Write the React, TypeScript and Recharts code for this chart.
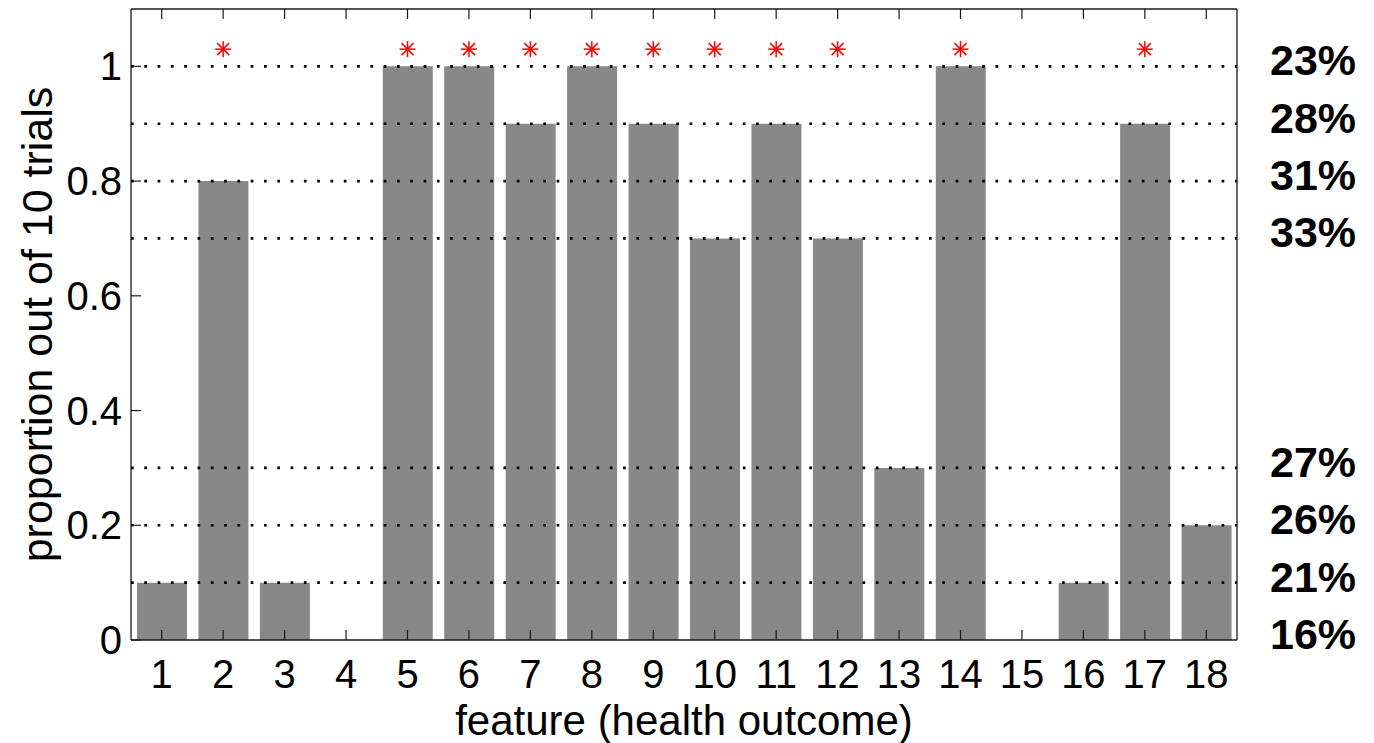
import React from 'react';
import { ComposedChart, Bar, XAxis, YAxis, ReferenceLine, ReferenceDot } from 'recharts';

const features = ['1', '2', '3', '4', '5', '6', '7', '8', '9', '10', '11', '12', '13', '14', '15', '16', '17', '18'];
const proportions = [0.1, 0.8, 0.1, 0, 1, 1, 0.9, 1, 0.9, 0.7, 0.9, 0.7, 0.3, 1, 0, 0.1, 0.9, 0.2];
const starred = ['2', '5', '6', '7', '8', '9', '10', '11', '12', '14', '17'];
const starLevel = 1.03;
const yTicks = [0, 0.2, 0.4, 0.6, 0.8, 1];
const levels = [1, 0.9, 0.8, 0.7, 0.3, 0.2, 0.1, 0];
const levelLabels = ['23%', '28%', '31%', '33%', '27%', '26%', '21%', '16%'];

const data = features.map((f, i) => ({ feature: f, value: proportions[i] }));

const FONT = '"Liberation Sans", Arial, Helvetica, sans-serif';
const FRAME = '#1a1a1a';
const TICK_LEN = 10;

const BottomTick = (props: any) => {
  const { x, y, payload } = props;
  return (
    <g>
      <line x1={x} y1={y} x2={x} y2={y - TICK_LEN} stroke={FRAME} strokeWidth={1.2} />
      <text x={x} y={y + 48} textAnchor="middle" fontSize={40} fontFamily={FONT} fill="#000">
        {payload.value}
      </text>
    </g>
  );
};

const TopTick = (props: any) => {
  const { x, y } = props;
  return <line x1={x} y1={y} x2={x} y2={y + TICK_LEN} stroke={FRAME} strokeWidth={1.2} />;
};

const LeftTick = (props: any) => {
  const { x, y, payload } = props;
  return (
    <g>
      <line x1={x} y1={y} x2={x + TICK_LEN} y2={y} stroke={FRAME} strokeWidth={1.2} />
      <text x={x - 9} y={y + 14} textAnchor="end" fontSize={40} fontFamily={FONT} fill="#000">
        {payload.value}
      </text>
    </g>
  );
};

const RightTick = (props: any) => {
  const { x, y } = props;
  return <line x1={x} y1={y} x2={x - TICK_LEN} y2={y} stroke={FRAME} strokeWidth={1.2} />;
};

const YLabel = (props: any) => {
  const { viewBox } = props;
  const cx = viewBox.x + 44;
  const cy = viewBox.y + viewBox.height / 2;
  return (
    <text
      x={cx}
      y={cy}
      transform={`rotate(-90 ${cx} ${cy})`}
      textAnchor="middle"
      fontSize={43}
      fontFamily={FONT}
      fill="#000"
    >
      proportion out of 10 trials
    </text>
  );
};

const XLabel = (props: any) => {
  const { viewBox } = props;
  return (
    <text
      x={viewBox.x + viewBox.width / 2}
      y={viewBox.y + 95}
      textAnchor="middle"
      fontSize={42}
      fontFamily={FONT}
      fill="#000"
    >
      feature (health outcome)
    </text>
  );
};

const RightLabel = (props: any) => {
  const { viewBox, text } = props;
  return (
    <text
      x={viewBox.x + viewBox.width + 33}
      y={viewBox.y + 9}
      fontSize={43}
      fontWeight="bold"
      fontFamily={FONT}
      fill="#000"
    >
      {text}
    </text>
  );
};

const Asterisk = (props: any) => {
  const { cx, cy } = props;
  const r = 8;
  const d = 6;
  return (
    <g stroke="#ff0000" strokeWidth={1.5}>
      <line x1={cx} y1={cy - r} x2={cx} y2={cy + r} />
      <line x1={cx - r} y1={cy} x2={cx + r} y2={cy} />
      <line x1={cx - d} y1={cy - d} x2={cx + d} y2={cy + d} />
      <line x1={cx - d} y1={cy + d} x2={cx + d} y2={cy - d} />
    </g>
  );
};

export default function App() {
  return (
    <div style={{ width: 1366, height: 735 }}>
      <ComposedChart
        width={1366}
        height={735}
        data={data}
        margin={{ top: 0, right: 136, bottom: 0, left: 0 }}
        barSize={50}
      >
        <XAxis
          dataKey="feature"
          type="category"
          height={103}
          tickSize={0}
          tickMargin={0}
          tick={<BottomTick />}
          tickLine={false}
          axisLine={{ stroke: FRAME, strokeWidth: 1.3 }}
          interval={0}
          label={<XLabel />}
        />
        <XAxis
          xAxisId="top"
          dataKey="feature"
          type="category"
          orientation="top"
          height={1}
          tickSize={0}
          tickMargin={0}
          tick={<TopTick />}
          tickLine={false}
          axisLine={{ stroke: FRAME, strokeWidth: 1.3 }}
          interval={0}
        />
        <YAxis
          type="number"
          domain={[0, 1.1]}
          ticks={yTicks}
          width={123}
          tickSize={0}
          tickMargin={0}
          tick={<LeftTick />}
          tickLine={false}
          axisLine={{ stroke: FRAME, strokeWidth: 1.3 }}
          label={<YLabel />}
        />
        <YAxis
          yAxisId="right"
          type="number"
          orientation="right"
          domain={[0, 1.1]}
          ticks={yTicks}
          width={1}
          tickSize={0}
          tickMargin={0}
          tick={<RightTick />}
          tickLine={false}
          axisLine={{ stroke: FRAME, strokeWidth: 1.3 }}
        />
        <Bar dataKey="value" fill="#888888" isAnimationActive={false} />
        {levels.map((lv, i) => (
          <ReferenceLine
            key={`lv-${lv}`}
            y={lv}
            stroke={lv === 0 ? 'none' : '#000'}
            strokeWidth={2.7}
            strokeDasharray="2.7 10.6"
            label={<RightLabel text={levelLabels[i]} />}
          />
        ))}
        {starred.map((f) => (
          <ReferenceDot key={`star-${f}`} x={f} y={starLevel} shape={<Asterisk />} />
        ))}
      </ComposedChart>
    </div>
  );
}
